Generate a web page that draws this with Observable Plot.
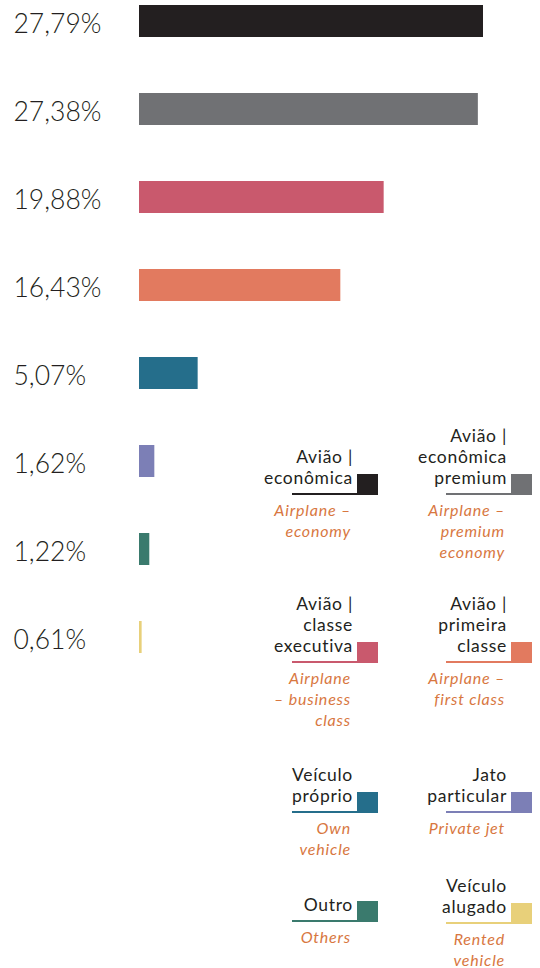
<!DOCTYPE html>
<html><head><meta charset="utf-8">
<script src="https://cdn.jsdelivr.net/npm/d3@7"></script>
<script src="https://cdn.jsdelivr.net/npm/@observablehq/plot@0.6"></script>
<style>
body{margin:0;background:#fff;}
#wrap{position:relative;width:540px;height:968px;font-family:Lato,"Open Sans",sans-serif;overflow:hidden;}
#wrap svg{position:absolute;left:0;top:0;}
.sq{position:absolute;width:21px;height:20px;}
.ul{position:absolute;width:86px;height:1.5px;}
.pt{position:absolute;text-align:right;font-size:17.5px;line-height:21px;color:#231f20;white-space:nowrap;letter-spacing:0.7px;font-weight:400;}
.en{position:absolute;text-align:right;font-size:16px;line-height:21px;color:#d8773f;font-style:italic;white-space:nowrap;letter-spacing:0.8px;font-weight:400;}
</style></head><body><div id="wrap"></div>
<script>
const categories = ["Avião | econômica", "Avião | econômica premium", "Avião | classe executiva", "Avião | primeira classe", "Veículo próprio", "Jato particular", "Outro", "Veículo alugado"];
const shares = [27.79, 27.38, 19.88, 16.43, 5.07, 1.62, 1.22, 0.61];
const shareLabels = ["27,79%", "27,38%", "19,88%", "16,43%", "5,07%", "1,62%", "1,22%", "0,61%"];
const colors = ["#231f20", "#707174", "#c9596d", "#e27a5f", "#256e8b", "#7c7fb6", "#3a7a6d", "#e8d07a"];
const legendPT = [["Avião |", "econômica"], ["Avião |", "econômica", "premium"], ["Avião |", "classe", "executiva"], ["Avião |", "primeira", "classe"], ["Veículo", "próprio"], ["Jato", "particular"], ["Outro"], ["Veículo", "alugado"]];
const legendEN = [["Airplane –", "economy"], ["Airplane –", "premium", "economy"], ["Airplane", "– business", "class"], ["Airplane –", "first class"], ["Own", "vehicle"], ["Private jet"], ["Others"], ["Rented", "vehicle"]];

const data = categories.map((c, i) => ({cat: c, share: shares[i], label: shareLabels[i], color: colors[i]}));

const chart = Plot.plot({
  width: 540,
  height: 968,
  marginLeft: 139,
  marginRight: 57,
  marginTop: 0,
  marginBottom: 0,
  x: {domain: [0.4, 27.79], clamp: true, axis: null},
  y: {domain: categories, range: [3, 654.5], paddingInner: 0.638, paddingOuter: 0, axis: null},
  color: {type: "identity"},
  marks: [
    Plot.barX(data, {x: "share", y: "cat", fill: "color"}),
    Plot.text(data, {y: "cat", text: "label", frameAnchor: "left", dx: -126, dy: 3, textAnchor: "start", fontSize: 26.5, fontWeight: 300, fill: "#231f20", fontFamily: "Lato"})
  ]
});
const wrap = document.getElementById("wrap");
wrap.appendChild(chart);

const colRight = [378, 532];
const rowBottom = [494, 662, 812, 921];
categories.forEach((c, i) => {
  const col = i % 2, row = Math.floor(i / 2);
  const r = colRight[col], b = rowBottom[row] + (i === 7 ? 2 : 0);
  const sq = document.createElement("div");
  sq.className = "sq"; sq.style.left = (r - 21) + "px"; sq.style.top = (b - 20) + "px"; sq.style.background = colors[i];
  const ul = document.createElement("div");
  ul.className = "ul"; ul.style.left = (r - 86) + "px"; ul.style.top = (b - 1) + "px"; ul.style.background = colors[i];
  const pt = document.createElement("div");
  pt.className = "pt"; pt.style.right = (540 - (r - 25)) + "px"; pt.style.bottom = (968 - b + 6) + "px";
  pt.innerHTML = legendPT[i].join("<br>");
  const en = document.createElement("div");
  en.className = "en"; en.style.right = (540 - (r - 27)) + "px"; en.style.top = (b + 5) + "px";
  en.innerHTML = legendEN[i].join("<br>");
  wrap.append(ul, sq, pt, en);
});
</script></body></html>
